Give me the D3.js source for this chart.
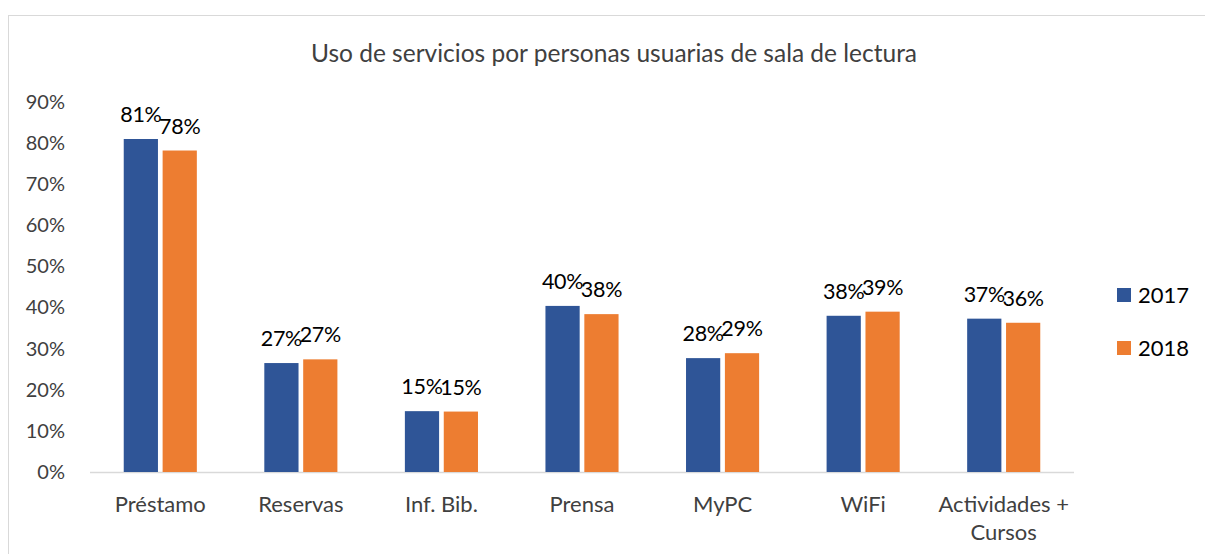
<!DOCTYPE html>
<html>
<head>
<meta charset="utf-8">
<script src="https://cdn.jsdelivr.net/npm/d3@7"></script>
<style>
  body { margin: 0; background: #fff; }
  svg { font-family: Lato, "Open Sans", sans-serif; }
</style>
</head>
<body>
<svg id="chart" width="1205" height="554"></svg>
<script>
// data
var categories = ["Préstamo", "Reservas", "Inf. Bib.", "Prensa", "MyPC", "WiFi", "Actividades + Cursos"];
var years = ["2017", "2018"];
var values2017 = [81.0, 26.5, 14.8, 40.4, 27.7, 38.0, 37.3];
var values2018 = [78.2, 27.4, 14.7, 38.4, 28.9, 39.0, 36.3];
var yTicks = [0, 10, 20, 30, 40, 50, 60, 70, 80, 90];
var colors = ["#2f5597", "#ed7d31"];

var svg = d3.select("#chart");
var margins = { top: 102, bottom: 82, left: 90, right: 131 };
var width = 1205, height = 554;

// outer frame
svg.append("rect")
  .attr("x", 8.5).attr("y", 15.5)
  .attr("width", 1230).attr("height", 600)
  .attr("fill", "none").attr("stroke", "#d9d9d9");

svg.append("text")
  .attr("x", 614).attr("y", 62)
  .attr("text-anchor", "middle")
  .attr("font-size", 24.5)
  .attr("fill", "#404040")
  .text("Uso de servicios por personas usuarias de sala de lectura");

var xScale = d3.scaleBand()
  .domain(categories)
  .range([margins.left, width - margins.right])
  .paddingInner(0.48).paddingOuter(0.24);

var xInner = d3.scaleBand()
  .domain(years)
  .range([0, xScale.bandwidth()])
  .paddingInner(0.12);

var yScale = d3.scaleLinear()
  .domain([0, 90])
  .range([height - margins.bottom, margins.top]);

// y axis labels (no line)
var yAxis = svg.append("g")
  .attr("transform", `translate(${margins.left - 22},0)`)
  .call(d3.axisLeft(yScale).tickValues(yTicks).tickSize(0).tickFormat(d => d + "%"));
yAxis.select(".domain").remove();
yAxis.selectAll("text")
  .attr("font-size", 20).attr("fill", "#404040")
  .attr("font-family", "Lato, 'Open Sans', sans-serif");

// baseline
svg.append("line")
  .attr("x1", margins.left).attr("x2", width - margins.right)
  .attr("y1", yScale(0) + 0.5).attr("y2", yScale(0) + 0.5)
  .attr("stroke", "#d9d9d9").attr("stroke-width", 1.5);

var rows = categories.map((c, i) => ({ cat: c, vals: [values2017[i], values2018[i]] }));

var groups = svg.selectAll("g.cat")
  .data(rows)
  .enter().append("g")
  .attr("class", "cat")
  .attr("transform", d => `translate(${xScale(d.cat)},0)`);

groups.selectAll("rect")
  .data(d => d.vals.map((v, j) => ({ year: years[j], v: v, j: j })))
  .enter().append("rect")
  .attr("x", d => xInner(d.year))
  .attr("y", d => yScale(d.v))
  .attr("width", xInner.bandwidth())
  .attr("height", d => yScale(0) - yScale(d.v))
  .attr("fill", d => colors[d.j]);

groups.selectAll("text.lbl")
  .data(d => d.vals.map((v, j) => ({ year: years[j], v: v })))
  .enter().append("text")
  .attr("class", "lbl")
  .attr("x", d => xInner(d.year) + xInner.bandwidth() / 2)
  .attr("y", d => yScale(d.v) - 17)
  .attr("text-anchor", "middle")
  .attr("font-size", 21.5)
  .attr("letter-spacing", -0.3)
  .attr("fill", "#000")
  .text(d => Math.round(d.v) + "%");

// category labels, wrapping long ones
groups.each(function (d) {
  var words = d.cat === "Actividades + Cursos" ? ["Actividades +", "Cursos"] : [d.cat];
  var t = d3.select(this).append("text")
    .attr("text-anchor", "middle")
    .attr("font-size", 22)
    .attr("fill", "#404040");
  words.forEach((w, k) => {
    t.append("tspan")
      .attr("x", xScale.bandwidth() / 2)
      .attr("y", yScale(0) + 40 + k * 28)
      .text(w);
  });
});

// legend
var legend = svg.selectAll("g.legend")
  .data(years)
  .enter().append("g")
  .attr("class", "legend")
  .attr("transform", (d, i) => `translate(1117,${288 + i * 53})`);
legend.append("rect")
  .attr("width", 14).attr("height", 14)
  .attr("fill", (d, i) => colors[i]);
legend.append("text")
  .attr("x", 21).attr("y", 15)
  .attr("font-size", 22)
  .attr("fill", "#000")
  .text(d => d);
</script>
</body>
</html>
